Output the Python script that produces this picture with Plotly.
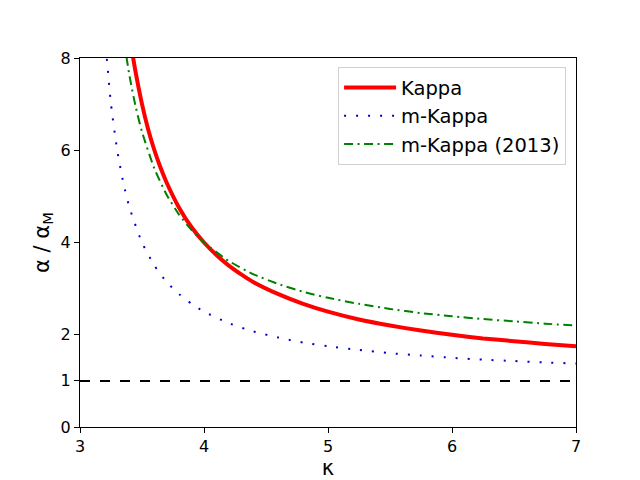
import plotly.graph_objects as go

# Kappa
k_kappa = [3.42, 3.45, 3.5, 3.55, 3.6, 3.65, 3.7, 3.8, 3.9, 4.0, 4.1, 4.2, 4.3, 4.4, 4.6, 4.8,
           5.0, 5.25, 5.5, 5.75, 6.0, 6.25, 6.5, 6.75, 7.0]
a_kappa = [8.14, 7.67, 7.0, 6.45, 6.0, 5.62, 5.29, 4.75, 4.33, 4.0, 3.73, 3.5, 3.31, 3.14, 2.88, 2.67,
           2.5, 2.33, 2.2, 2.09, 2.0, 1.92, 1.86, 1.8, 1.75]

# m-Kappa
k_mk = [3.2, 3.25, 3.3, 3.35, 3.4, 3.5, 3.6, 3.7, 3.8, 3.9, 4.0, 4.2, 4.4, 4.6, 4.8,
        5.0, 5.25, 5.5, 5.75, 6.0, 6.25, 6.5, 6.75, 7.0]
a_mk = [8.5, 7.0, 6.0, 5.29, 4.75, 4.0, 3.5, 3.14, 2.88, 2.67, 2.5, 2.25, 2.07, 1.94, 1.83,
        1.75, 1.67, 1.6, 1.55, 1.5, 1.46, 1.43, 1.4, 1.375]

# m-Kappa (2013)
k_mk13 = [3.35, 3.4, 3.45, 3.5, 3.6, 3.7, 3.8, 3.9, 4.0, 4.2, 4.4, 4.6, 4.8,
          5.0, 5.25, 5.5, 5.75, 6.0, 6.25, 6.5, 6.75, 7.0]
a_mk13 = [8.46, 7.6, 6.93, 6.4, 5.6, 5.03, 4.6, 4.27, 4.0, 3.6, 3.31, 3.1, 2.93,
          2.8, 2.67, 2.56, 2.47, 2.4, 2.34, 2.29, 2.24, 2.2]

ref_x = [3, 7]
ref_y = [1, 1]

x_ticks = [3, 4, 5, 6, 7]
y_ticks = [0, 1, 2, 4, 6, 8]

fig = go.Figure()
fig.add_trace(go.Scatter(x=k_kappa, y=a_kappa, mode="lines", name="Kappa",
                         line=dict(color="#ff0000", width=4, shape="spline", smoothing=0.6)))
fig.add_trace(go.Scatter(x=k_mk, y=a_mk, mode="lines", name="m-Kappa",
                         line=dict(color="#0000cc", width=2, dash="2px,10px", shape="spline", smoothing=0.6)))
fig.add_trace(go.Scatter(x=k_mk13, y=a_mk13, mode="lines", name="m-Kappa (2013)",
                         line=dict(color="#008000", width=2, dash="9px,4.5px,2px,4.5px", shape="spline", smoothing=0.6)))
fig.add_trace(go.Scatter(x=ref_x, y=ref_y, mode="lines", showlegend=False,
                         line=dict(color="black", width=2, dash="10px,10px")))

axis_common = dict(showgrid=False, zeroline=False, showline=True, linecolor="black", linewidth=1,
                   mirror=True, ticks="outside", ticklen=5, tickcolor="black", automargin=False,
                   tickfont=dict(family="DejaVu Sans", size=16, color="black"))

fig.update_layout(
    width=632, height=472,
    margin=dict(l=72, r=64, t=50, b=53),
    paper_bgcolor="white", plot_bgcolor="white",
    font=dict(family="DejaVu Sans", color="black"),
    xaxis=dict(range=[3, 7], tickvals=x_ticks,
               title=dict(text="κ", font=dict(size=21), standoff=6), **axis_common),
    yaxis=dict(range=[0, 8], tickvals=y_ticks,
               title=dict(text="α / α<sub>M</sub>", font=dict(size=21), standoff=5), **axis_common),
    legend=dict(x=0.98, y=0.975, xanchor="right", yanchor="top", itemwidth=52,
                bordercolor="#d0d0d0", borderwidth=1, bgcolor="rgba(255,255,255,0.8)",
                font=dict(size=19.5, family="DejaVu Sans"), tracegroupgap=0),
    showlegend=True,
)

fig.write_html("out.html")
